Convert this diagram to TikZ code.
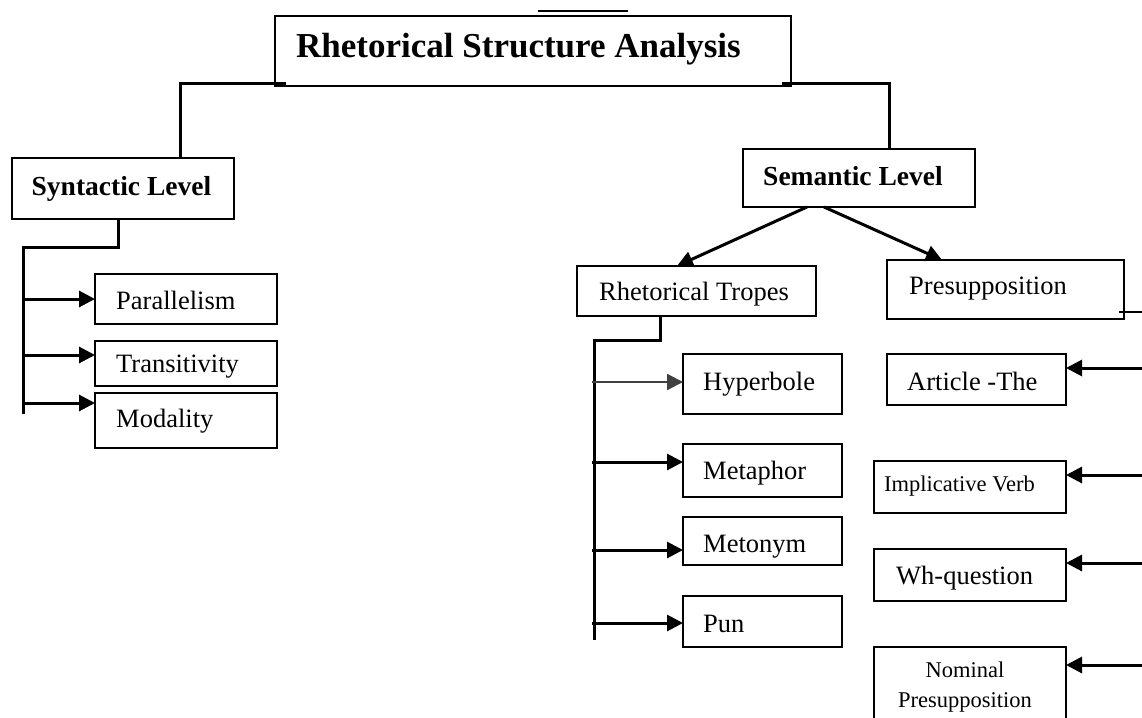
\documentclass[tikz,border=0pt]{standalone}
\usepackage{fontspec}
\setmainfont{Liberation Serif}
\usetikzlibrary{arrows.meta,calc}
\begin{document}
\begin{tikzpicture}[x=1pt,y=-1pt,
  box/.style={draw, line width=2.6pt, inner sep=0pt, outer sep=0pt, anchor=north west},
  conn/.style={line width=3pt},
  arr/.style={line width=3pt, -{Triangle[length=16pt,width=16pt]}},
  txt/.style={inner sep=0pt, anchor=base west, font=\fontsize{26.5}{32}\selectfont},
  btxt/.style={inner sep=0pt, anchor=base west, font=\bfseries\fontsize{27.5}{32}\selectfont},
  stxt/.style={inner sep=0pt, font=\fontsize{22.5}{27}\selectfont}]
\useasboundingbox (0,0) rectangle (1142,717);
\clip (0,0) rectangle (1142,717);
\fill[white] (0,0) rectangle (1142,717);

% stray line at top
\coordinate (s1) at (538,11);
\coordinate (s2) at (628,11);
\draw[line width=2.5pt] (s1) -- (s2);

% boxes
\node[box, minimum width=516pt, minimum height=70pt] (main) at (275,16) {};
\node[box, minimum width=222pt, minimum height=61pt] (syn) at (12,158) {};
\node[box, minimum width=232pt, minimum height=58pt] (sem) at (743,149) {};
\node[box, minimum width=182pt, minimum height=50pt] (par) at (95,274) {};
\node[box, minimum width=182pt, minimum height=45pt] (tra) at (95,341) {};
\node[box, minimum width=182pt, minimum height=55pt] (mod) at (95,393) {};
\node[box, minimum width=239pt, minimum height=50pt] (trp) at (577,266) {};
\node[box, minimum width=237pt, minimum height=59pt] (pre) at (887,260) {};
\node[box, minimum width=159pt, minimum height=60pt] (hyp) at (683,354) {};
\node[box, minimum width=159pt, minimum height=53pt] (met) at (683,444) {};
\node[box, minimum width=159pt, minimum height=48pt] (mty) at (683,517) {};
\node[box, minimum width=159pt, minimum height=51pt] (pun) at (683,596) {};
\node[box, minimum width=179pt, minimum height=51pt] (art) at (887,354) {};
\node[box, minimum width=192pt, minimum height=52pt] (imp) at (874,461) {};
\node[box, minimum width=192pt, minimum height=52pt] (whq) at (874,549) {};
\node[box, minimum width=192pt, minimum height=93pt] (nom) at (874,647) {};

% texts
\node[inner sep=0pt, anchor=base west, font=\bfseries\fontsize{35}{40}\selectfont] (maint) at (296,57) {Rhetorical Structure Analysis};
\node[btxt] (synt) at (31.5,195) {Syntactic Level};
\node[btxt] (semt) at (763,185) {Semantic Level};
\node[txt] (part) at (116,309) {Parallelism};
\node[txt] (trat) at (116,372) {Transitivity};
\node[txt] (modt) at (116,427) {Modality};
\node[txt] (trpt) at (599,300) {Rhetorical Tropes};
\node[txt] (pret) at (909,294) {Presupposition};
\node[txt] (hypt) at (703,390) {Hyperbole};
\node[txt] (artt) at (907,390) {Article -The};
\node[txt] (mett) at (703,479) {Metaphor};
\node[txt] (mtyt) at (703,552) {Metonym};
\node[txt] (punt) at (703,632) {Pun};
\node[stxt, anchor=base west] (impt) at (884,491) {Implicative Verb};
\node[txt] (whqt) at (896,584) {Wh-question};
\node[stxt, anchor=base] (nomt1) at (965,677) {Nominal};
\node[stxt, anchor=base] (nomt2) at (965,707) {Presupposition};

% connectors: top level
\coordinate (cx1) at (180,0);
\coordinate (cx2) at (889,0);
\draw[conn] ($(main.south west)+(11,-3)$) -| (cx1 |- syn.north);
\draw[conn] ($(main.south east)+(-9,-3)$) -| (cx2 |- sem.north);

% syntactic spine
\coordinate (cx3) at (118,0);
\coordinate (sp1) at (23,247);
\coordinate (sp2) at (23,414);
\draw[conn] (cx3 |- syn.south) |- (sp1) -- (sp2);
\coordinate (a1) at (23,299);
\coordinate (a2) at (23,355);
\coordinate (a3) at (23,403);
\draw[arr] (a1) -- (a1 -| par.west);
\draw[arr] (a2) -- (a2 -| tra.west);
\draw[arr] (a3) -- (a3 -| mod.west);

% semantic arrows
\draw[arr] ($(sem.south west)+(64,0)$) -- ($(trp.north west)+(100,0)$);
\draw[arr] ($(sem.south west)+(81,0)$) -- ($(pre.north west)+(55,0)$);

% tropes spine
\coordinate (tp1) at (594,340);
\coordinate (tp2) at (594,640);
\draw[conn] ($(trp.south west)+(83,0)$) |- (tp1) -- (tp2);
\coordinate (b1) at (592,382);
\coordinate (b2) at (592,462);
\coordinate (b3) at (592,550);
\coordinate (b4) at (592,623);
\draw[line width=2.2pt, black!75, -{Triangle[length=16pt,width=16pt]}] (b1) -- (b1 -| hyp.west);
\draw[arr] (b2) -- (b2 -| met.west);
\draw[arr] (b3) -- (b3 -| mty.west);
\draw[arr] (b4) -- (b4 -| pun.west);

% presupposition side
\coordinate (pr1) at (1142,312);
\draw[line width=2.5pt] ($(pre.south east)+(-5,-7)$) -- (pr1);
\coordinate (r1) at (1142,368);
\coordinate (r2) at (1142,475);
\coordinate (r3) at (1142,563);
\coordinate (r4) at (1142,665);
\draw[arr] (r1) -- (r1 -| art.east);
\draw[arr] (r2) -- (r2 -| imp.east);
\draw[arr] (r3) -- (r3 -| whq.east);
\draw[arr] (r4) -- (r4 -| nom.east);
\end{tikzpicture}
\end{document}
